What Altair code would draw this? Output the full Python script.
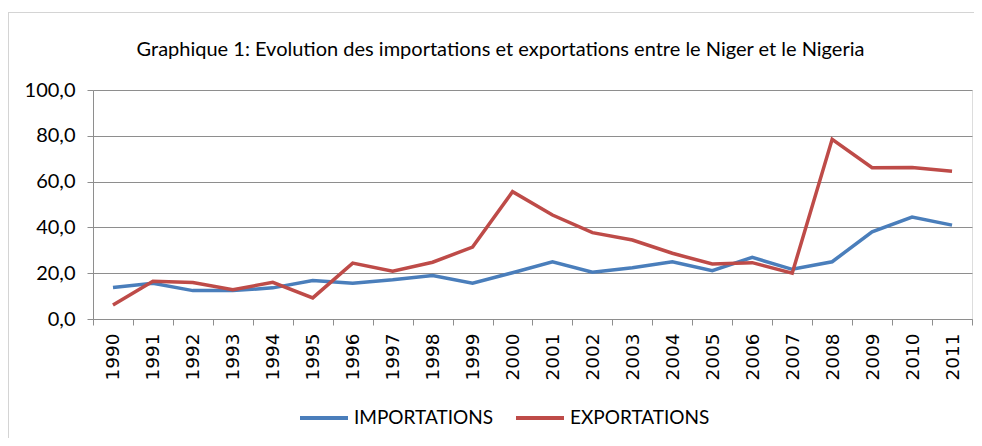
import altair as alt
import pandas as pd

years = ["1990", "1991", "1992", "1993", "1994", "1995", "1996", "1997", "1998", "1999", "2000",
         "2001", "2002", "2003", "2004", "2005", "2006", "2007", "2008", "2009", "2010", "2011"]
imports = [13.8, 15.6, 12.4, 12.4, 13.6, 16.8, 15.6, 17.1, 19.0, 15.6, 20.2,
           25.0, 20.4, 22.4, 25.0, 21.1, 26.9, 21.7, 25.0, 38.1, 44.5, 41.0]
exports = [6.1, 16.5, 15.9, 12.8, 16.0, 9.2, 24.4, 20.9, 24.8, 31.4, 55.6,
           45.4, 37.7, 34.5, 28.7, 24.0, 24.6, 20.0, 78.5, 66.1, 66.2, 64.5]
series = ["IMPORTATIONS", "EXPORTATIONS"]
colors = ["#4A7EBB", "#BE4B48"]
y_ticks = [0, 20, 40, 60, 80, 100]

rows = []
for i, y in enumerate(years):
    rows.append({"year": y, "serie": series[0], "value": imports[i]})
    rows.append({"year": y, "serie": series[1], "value": exports[i]})
df = pd.DataFrame(rows)

FONT = "Lato"
GRID = "#8e8e8e"

lines = alt.Chart(df).mark_line(strokeWidth=3.5).encode(
    x=alt.X("year:N", sort=years,
            scale=alt.Scale(type="band", paddingInner=0, paddingOuter=0),
            axis=alt.Axis(title=None, labelAngle=270, labelAlign="right", labelBaseline="middle",
                          tickBand="extent", tickSize=6, tickColor=GRID, domainColor=GRID,
                          labelPadding=8, labelFontSize=18.5, labelColor="#000",
                          labelFont="DejaVu Sans", grid=False)),
    y=alt.Y("value:Q", scale=alt.Scale(domain=[0, 100], nice=False),
            axis=alt.Axis(title=None, values=y_ticks,
                          labelExpr="replace(format(datum.value, '.1f'), '.', ',')",
                          gridColor=GRID, tickColor=GRID, domainColor=GRID, tickSize=6,
                          labelPadding=12, labelFontSize=20, labelColor="#000", labelFont=FONT)),
    color=alt.Color("serie:N", sort=series,
                    scale=alt.Scale(domain=series, range=colors),
                    legend=alt.Legend(title=None, orient="none", legendX=205, legendY=302,
                                      direction="horizontal", symbolType="stroke",
                                      symbolSize=2304, symbolStrokeWidth=4,
                                      labelFontSize=19, labelFont=FONT, labelColor="#000",
                                      columnPadding=14, labelOffset=4)),
)

frame = alt.Chart(alt.Data(values=[{}])).mark_rect(
    fillOpacity=0, stroke="#a8a8a8", strokeWidth=1, strokeDash=[1, 1]
).encode(x=alt.value(-84.5), x2=alt.value(1200), y=alt.value(-77.5), y2=alt.value(800))

chart = alt.layer(frame, lines).properties(
    width=879, height=229,
    title=alt.TitleParams(
        "Graphique 1: Evolution des importations et exportations entre le Niger et le Nigeria",
        fontSize=20, font=FONT, fontWeight="normal", color="#000",
        anchor="middle", dx=-32, offset=-48),
    autosize=alt.AutoSizeParams(type="none"),
    padding={"left": 85, "top": 82, "right": 2, "bottom": 119},
).configure_view(stroke="transparent").configure(background="white")

chart.save("out.html", embed_options={"renderer": "svg", "actions": False})
